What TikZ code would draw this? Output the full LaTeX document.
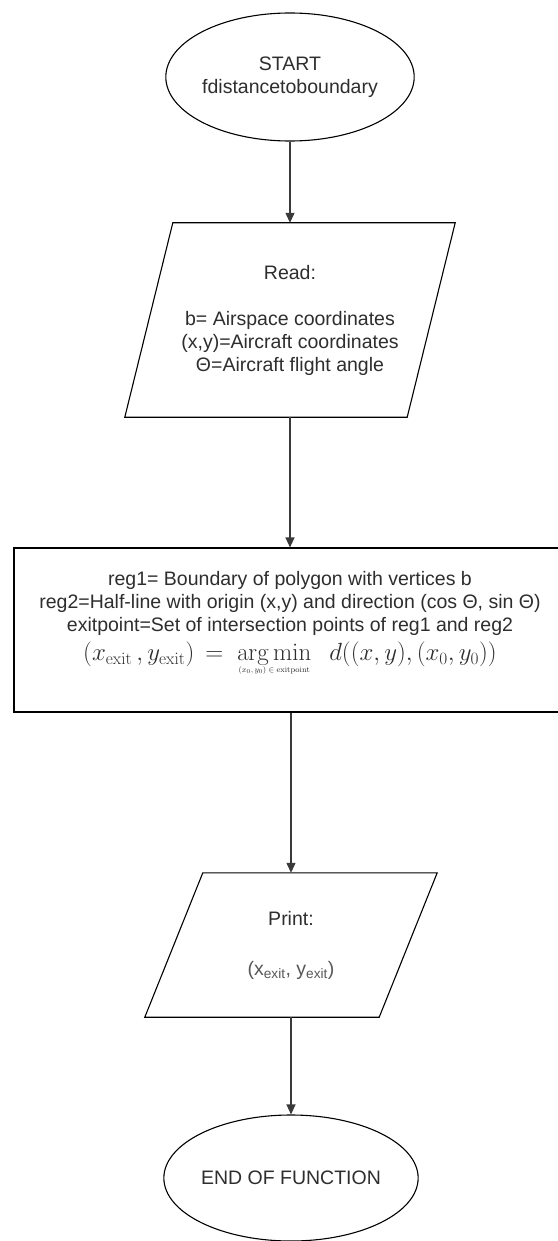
\documentclass[tikz,border=0pt]{standalone}
\usepackage[no-math]{fontspec}
\setmainfont{Liberation Sans}
\usetikzlibrary{shapes.geometric,arrows.meta}
\definecolor{txt}{HTML}{2E2E2E}
\definecolor{ln}{HTML}{3A3A3A}
\begin{document}
\begin{tikzpicture}[x=1pt,y=-1pt,
  every node/.style={font=\fontsize{19.5}{23}\selectfont, text=txt, align=center, inner sep=0pt},
  term/.style={ellipse, draw=black, line width=1.1pt, fill=white},
  iobox/.style={rectangle, draw=none},
  procbox/.style={rectangle, draw=black, line width=1.1pt, fill=white},
  outline/.style={draw=black, line width=1.1pt, fill=white},
  conn/.style={draw=ln, line width=1.2pt, -{Triangle[length=10pt,width=9pt]}}]
\fill[white] (0,0) rectangle (557,1241);
\useasboundingbox (0,0) rectangle (557,1241);

% start
\node[term, minimum width=194pt, minimum height=128pt] (start) at (290,77) {START\\fdistancetoboundary};

% read
\node[iobox, minimum width=282pt, minimum height=194pt] (read) at (290,320) {};
\draw[outline] ([xshift=24pt]read.north west) -- ([xshift=24pt]read.north east)
  -- ([xshift=-24pt]read.south east) -- ([xshift=-24pt]read.south west) -- cycle;
\node (readtxt) at (read.center) {Read:\\[23pt]b= Airspace coordinates\\(x,y)=Aircraft coordinates\\\symbol{"0398}=Aircraft flight angle};

% process
\node[procbox, minimum width=552pt, minimum height=164pt] (proc) at (290,630) {};
\node[anchor=north] (proctxt) at (290,571) {reg1= Boundary of polygon with vertices b\\
reg2=Half-line with origin (x,y) and direction (cos \symbol{"0398}, sin \symbol{"0398})\\
exitpoint=Set of intersection points of reg1 and reg2\\[6pt]
{\fontsize{26}{30}\selectfont $\bigl(x_{\mathrm{exit}}\,,y_{\mathrm{exit}}\bigr)\,=\;\mathop{\mathrm{arg\,min}}\limits_{\mbox{\fontsize{8}{8}\selectfont$(x_0,y_0)\in\mathrm{exitpoint}$}}\;\; d\bigl(\bigl(x,y\bigr),\bigl(x_0,y_0\bigr)\bigr)$}};

% print
\node[iobox, minimum width=234pt, minimum height=144pt] (print) at (291,945) {};
\draw[outline] ([xshift=29pt]print.north west) -- ([xshift=29pt]print.north east)
  -- ([xshift=-29pt]print.south east) -- ([xshift=-29pt]print.south west) -- cycle;
\node (printtxt) at (print.center) {Print:\\[27pt]{\color{txt!80}(x\textsubscript{exit}, y\textsubscript{exit})}};

% end
\node[term, minimum width=196pt, minimum height=126pt] (end) at (291,1178) {END OF FUNCTION};

% connectors
\draw[conn] (start.south) -- (read.north);
\draw[conn] (read.south) -- (proc.north -| read.south);
\draw[conn] (proc.south -| print.north) -- (print.north);
\draw[conn] (print.south) -- (end.north);
\end{tikzpicture}
\end{document}
